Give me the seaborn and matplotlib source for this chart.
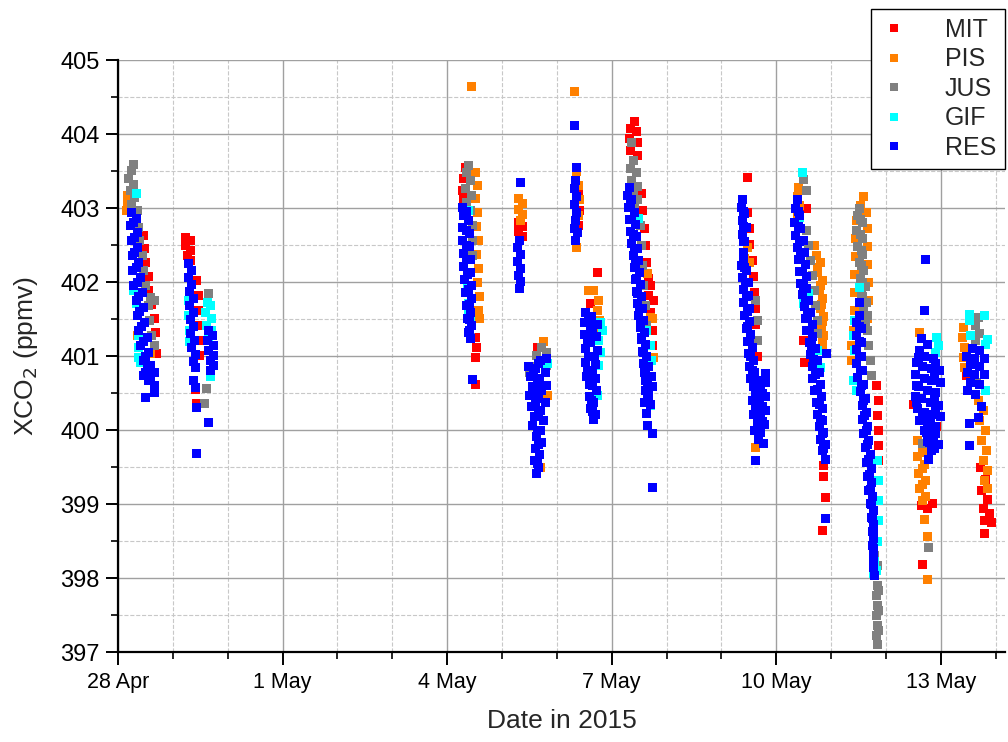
import pandas as pd
import matplotlib
matplotlib.use("Agg")
import matplotlib.pyplot as plt
import matplotlib.dates as mdates
from matplotlib.ticker import MultipleLocator
import seaborn as sns

# --- data: (days after 28 Apr 2015 00:00, XCO2 in ppmv) ---

MIT = [
    (0.46, 402.63), (0.49, 402.46), (0.51, 402.27), (0.55, 402.08), (0.56, 401.89), (0.62, 401.70),
    (0.66, 401.51), (0.69, 401.32), (0.67, 401.14), (0.71, 401.04), (0.55, 400.78),
    (1.24, 402.60), (1.33, 402.56), (1.24, 402.50), (1.33, 402.43), (1.26, 402.36), (1.33, 402.29),
    (1.44, 402.02), (1.46, 401.82), (1.47, 401.62), (1.47, 401.41), (1.49, 401.21), (1.49, 401.01),
    (1.42, 400.55), (1.44, 400.36),
    (6.34, 403.55), (6.30, 403.40), (6.28, 403.24), (6.30, 403.11), (6.52, 401.25), (6.54, 401.12),
    (6.52, 400.98), (6.52, 400.62),
    (7.30, 402.81), (7.37, 402.75), (7.30, 402.69), (7.37, 402.62), (7.65, 401.12),
    (8.39, 403.22), (8.41, 402.97), (8.39, 402.77), (8.74, 402.13), (8.61, 401.71),
    (9.41, 404.17), (9.34, 404.08), (9.45, 404.03), (9.32, 403.94), (9.47, 403.88), (9.34, 403.78),
    (9.47, 403.71), (9.54, 403.20), (9.56, 402.97), (9.59, 402.73), (9.61, 402.50), (9.63, 402.27),
    (9.67, 402.05), (9.70, 401.95), (9.68, 401.82), (9.70, 401.59), (9.74, 401.35), (9.74, 401.14),
    (9.76, 401.75),
    (11.47, 403.42), (11.47, 402.94), (11.51, 402.73), (11.52, 402.51), (11.56, 402.29), (11.58, 402.08),
    (11.60, 401.86), (11.62, 401.64), (11.63, 401.43), (11.65, 401.21), (11.65, 400.99),
    (12.55, 403.00), (12.49, 401.21), (12.51, 400.91), (12.87, 399.52), (12.87, 399.38),
    (12.89, 399.09), (12.85, 398.64),
    (13.82, 400.60), (13.86, 400.40), (13.84, 400.20), (13.87, 399.99), (13.86, 399.79), (13.87, 399.59),
    (14.65, 398.98), (14.76, 398.94), (14.84, 399.01), (14.67, 398.19), (14.51, 400.35), (14.93, 400.05),
    (15.73, 399.49), (15.82, 399.34), (15.75, 399.18), (15.86, 399.07), (15.77, 398.94), (15.89, 398.88),
    (15.79, 398.78), (15.93, 398.75), (15.79, 398.61), (15.46, 400.74),
]

PIS = [
    (0.18, 403.08), (0.16, 402.97), (0.18, 403.17), (0.36, 401.28), (0.60, 401.04),
    (6.44, 404.65), (6.52, 403.48), (6.55, 403.31), (6.52, 403.13), (6.55, 402.94), (6.54, 402.75),
    (6.57, 402.56), (6.54, 402.37), (6.57, 402.19), (6.55, 401.99), (6.59, 401.81), (6.57, 401.62),
    (6.59, 401.51),
    (7.30, 403.13), (7.37, 403.06), (7.30, 402.98), (7.37, 402.92), (7.34, 402.83),
    (7.76, 401.20), (7.70, 399.49), (7.83, 400.47),
    (8.32, 404.58), (8.36, 403.50), (8.39, 403.31), (8.41, 403.11), (8.39, 402.90), (8.36, 402.47),
    (8.67, 401.89), (8.57, 401.89), (8.76, 401.75), (8.74, 401.62), (8.78, 401.48), (8.72, 401.39),
    (9.65, 402.12), (9.70, 401.52), (9.74, 401.51), (9.76, 400.98),
    (11.47, 402.47), (11.43, 402.32), (11.52, 402.27), (11.62, 399.76),
    (12.40, 403.28), (12.38, 403.16), (12.42, 403.04), (12.38, 402.93), (12.69, 402.50), (12.73, 402.36),
    (12.80, 402.27), (12.76, 402.13), (12.84, 402.02), (12.78, 401.89), (12.85, 401.78), (12.80, 401.64),
    (12.87, 401.54), (12.82, 401.40), (12.87, 401.28), (12.84, 401.14),
    (12.75, 402.20), (12.80, 401.95), (12.83, 401.70), (12.84, 401.47), (12.85, 401.20),
    (13.60, 403.16), (13.53, 403.04), (13.64, 402.94), (13.46, 402.83), (13.66, 402.73), (13.44, 402.59),
    (13.67, 402.48), (13.44, 402.35), (13.67, 402.24), (13.42, 402.10), (13.69, 402.00), (13.42, 401.86),
    (13.69, 401.75), (13.42, 401.62), (13.67, 401.51), (13.40, 401.35), (13.38, 401.14), (13.38, 400.94),
    (14.62, 401.32), (14.58, 399.86), (14.69, 399.75), (14.58, 399.64), (14.71, 399.53), (14.60, 399.42),
    (14.72, 399.32), (14.62, 399.21), (14.72, 399.10), (14.71, 398.79), (14.75, 398.57), (14.75, 397.98),
    (14.66, 399.70), (14.66, 399.48), (14.67, 399.26), (14.67, 399.05),
    (15.42, 401.39), (15.40, 401.25), (15.44, 401.12), (15.42, 400.98), (15.44, 400.85),
    (15.69, 400.40), (15.77, 400.26), (15.71, 400.13), (15.81, 399.99), (15.75, 399.86), (15.83, 399.72),
    (15.77, 399.59), (15.85, 399.45), (15.79, 399.32), (15.85, 399.21),
]

JUS = [
    (0.29, 403.59), (0.24, 403.51), (0.20, 403.40), (0.29, 403.32), (0.22, 403.24), (0.31, 403.15),
    (0.24, 403.05), (0.35, 402.97), (0.38, 402.74), (0.40, 402.56), (0.44, 402.36), (0.47, 402.16),
    (0.51, 401.96), (0.60, 401.79), (0.55, 401.68), (0.66, 401.75), (0.58, 401.48), (0.62, 401.28),
    (0.66, 401.14),
    (1.66, 401.85), (1.62, 400.56), (1.57, 400.36),
    (6.39, 403.58), (6.35, 403.48), (6.43, 403.38), (6.33, 403.27), (6.45, 403.17), (6.35, 403.08),
    (6.43, 402.97), (6.46, 402.77), (6.46, 402.56), (6.46, 402.36), (6.43, 401.25),
    (7.72, 401.12), (7.81, 401.05), (7.63, 401.01), (7.54, 400.86), (7.81, 400.87), (7.50, 400.78),
    (9.37, 403.88), (9.39, 403.65), (9.35, 403.54), (9.45, 403.48), (9.37, 403.38), (9.47, 403.29),
    (9.39, 403.19), (9.47, 403.11), (9.41, 403.01), (9.52, 402.77), (9.54, 402.50), (9.56, 402.23),
    (9.58, 401.95), (9.61, 401.68), (9.63, 401.41),
    (11.63, 401.75), (11.65, 401.48), (11.65, 401.21),
    (12.49, 403.39), (12.55, 403.24), (12.55, 402.70), (12.58, 402.50), (12.62, 402.29), (12.66, 402.09),
    (12.69, 401.89), (12.71, 401.68), (12.75, 401.48), (12.76, 401.31),
    (13.52, 403.00), (13.49, 402.90), (13.57, 402.81), (13.47, 402.70), (13.57, 402.59), (13.49, 402.48),
    (13.58, 402.37), (13.51, 402.27), (13.60, 402.16), (13.53, 402.05), (13.62, 401.94), (13.55, 401.83),
    (13.64, 401.73), (13.66, 401.55), (13.67, 401.35), (13.69, 401.14), (13.71, 400.94), (13.73, 400.74),
    (13.54, 402.85), (13.54, 402.64), (13.55, 402.43), (13.56, 402.22), (13.57, 402.00), (13.58, 401.80),
    (13.60, 401.62), (13.62, 401.45),
    (13.80, 398.30), (13.84, 398.17), (13.80, 398.03), (13.84, 397.90), (13.82, 397.76), (13.84, 397.63),
    (13.82, 397.49), (13.84, 397.36), (13.82, 397.22), (13.84, 397.11), (13.87, 397.83), (13.87, 397.56),
    (13.87, 397.29),
    (14.78, 398.42), (14.66, 399.82),
    (15.68, 401.52), (15.64, 401.41), (15.71, 401.31), (15.64, 401.21), (15.66, 400.64),
]

GIF = [
    (0.33, 403.20), (0.29, 401.89), (0.33, 401.71), (0.38, 401.28), (0.38, 401.12), (0.38, 400.98),
    (0.42, 400.91),
    (1.28, 401.75), (1.29, 401.55), (1.31, 401.35), (1.30, 401.20),
    (1.64, 401.73), (1.69, 401.69), (1.60, 401.59), (1.71, 401.51), (1.62, 401.41), (1.71, 401.35),
    (1.66, 401.25), (1.69, 400.72),
    (6.39, 402.97), (6.39, 401.71), (6.39, 401.62), (6.43, 401.51), (6.37, 401.93),
    (7.83, 400.90),
    (8.80, 401.45), (8.83, 401.35), (8.76, 401.21), (8.80, 401.05), (8.76, 400.87), (8.74, 400.47),
    (9.49, 402.86), (9.63, 401.35), (9.70, 401.14), (9.72, 400.94), (9.67, 400.47), (9.70, 400.33),
    (12.47, 403.48), (12.43, 402.88), (12.49, 401.71), (12.58, 401.85), (12.75, 401.08), (12.80, 400.85),
    (13.52, 401.93), (13.42, 401.48), (13.40, 401.28), (13.42, 401.08), (13.40, 400.67), (13.46, 400.53),
    (13.84, 399.59), (13.86, 399.32), (13.86, 399.05), (13.86, 398.78), (13.84, 398.50), (13.80, 398.23),
    (13.77, 398.06), (13.82, 398.10),
    (14.93, 401.25), (14.95, 401.14), (14.91, 401.05),
    (15.52, 401.56), (15.79, 401.55), (15.52, 401.48), (15.54, 401.28), (15.86, 401.22), (15.82, 401.16),
    (15.82, 400.53),
]

RES = [
    # 28 Apr
    (0.24, 402.94), (0.33, 402.86), (0.22, 402.77), (0.35, 402.67), (0.24, 402.56), (0.36, 402.47),
    (0.26, 402.36), (0.38, 402.27), (0.27, 402.16), (0.42, 402.06), (0.29, 401.96), (0.44, 401.86),
    (0.33, 401.75), (0.46, 401.66), (0.35, 401.55), (0.49, 401.45), (0.38, 401.35), (0.53, 401.25),
    (0.42, 401.14), (0.56, 401.05), (0.46, 400.94), (0.60, 400.87), (0.51, 400.78), (0.66, 400.78),
    (0.56, 400.67), (0.67, 400.60), (0.46, 400.74), (0.51, 400.44), (0.66, 400.51),
    (0.29, 402.80), (0.30, 402.60), (0.31, 402.40), (0.33, 402.20), (0.35, 402.00), (0.38, 401.80),
    (0.40, 401.60), (0.43, 401.40), (0.47, 401.20), (0.50, 401.00), (0.54, 400.85), (0.60, 400.70),
    # 29 Apr
    (1.29, 402.25), (1.35, 402.16), (1.29, 402.06), (1.35, 401.97), (1.31, 401.87), (1.37, 401.78),
    (1.31, 401.68), (1.38, 401.59), (1.33, 401.50), (1.38, 401.40), (1.33, 401.31), (1.40, 401.21),
    (1.35, 401.12), (1.42, 401.02), (1.37, 400.93), (1.42, 400.85), (1.38, 400.67), (1.42, 400.58),
    (1.44, 400.30), (1.44, 399.68),
    (1.66, 401.35), (1.73, 401.28), (1.64, 401.21), (1.75, 401.14), (1.66, 401.08), (1.75, 401.01),
    (1.68, 400.94), (1.75, 400.87), (1.69, 400.81), (1.66, 400.10),
    # 4 May
    (6.28, 403.01), (6.30, 402.90), (6.39, 402.83), (6.28, 402.74), (6.41, 402.66), (6.28, 402.56),
    (6.41, 402.48), (6.30, 402.39), (6.43, 402.31), (6.30, 402.21), (6.43, 402.13), (6.32, 402.04),
    (6.45, 401.96), (6.33, 401.86), (6.45, 401.78), (6.35, 401.68), (6.43, 401.59), (6.37, 401.51),
    (6.45, 401.41), (6.39, 401.32), (6.43, 401.24), (6.46, 400.68),
    (6.35, 402.95), (6.35, 402.70), (6.35, 402.50), (6.36, 402.30), (6.37, 402.10), (6.39, 401.90),
    (6.40, 401.70), (6.41, 401.50), (6.41, 401.35),
    # 5 May
    (7.34, 403.34), (7.32, 402.56), (7.28, 402.47), (7.34, 402.37), (7.28, 402.28), (7.34, 402.19),
    (7.30, 402.09), (7.34, 402.01), (7.32, 401.91),
    (7.81, 400.97), (7.70, 400.94), (7.49, 400.86), (7.61, 400.83), (7.79, 400.78), (7.52, 400.72),
    (7.68, 400.70), (7.81, 400.61), (7.56, 400.59), (7.72, 400.53), (7.50, 400.47), (7.63, 400.43),
    (7.79, 400.37), (7.54, 400.32), (7.70, 400.26), (7.59, 400.18), (7.76, 400.13), (7.56, 400.06),
    (7.70, 399.99), (7.63, 399.91), (7.72, 399.83), (7.61, 399.75), (7.68, 399.67), (7.59, 399.59),
    (7.66, 399.49), (7.63, 399.42),
    (7.66, 400.90), (7.57, 400.78), (7.65, 400.62), (7.66, 400.50), (7.62, 400.35), (7.66, 400.20),
    (7.64, 400.00), (7.66, 399.80), (7.64, 399.55),
    # 6 May
    (8.32, 404.11), (8.36, 403.55), (8.34, 403.38), (8.32, 403.27), (8.36, 403.16), (8.32, 403.05),
    (8.36, 402.94), (8.34, 402.83), (8.32, 402.73), (8.38, 402.67), (8.34, 402.56),
    (8.52, 401.59), (8.63, 401.54), (8.50, 401.45), (8.74, 401.43), (8.61, 401.37), (8.50, 401.29),
    (8.72, 401.26), (8.61, 401.18), (8.52, 401.10), (8.74, 401.08), (8.63, 400.99), (8.52, 400.91),
    (8.70, 400.89), (8.61, 400.81), (8.54, 400.72), (8.70, 400.70), (8.59, 400.62), (8.72, 400.53),
    (8.59, 400.45), (8.67, 400.37), (8.61, 400.29), (8.70, 400.21), (8.67, 400.14),
    (8.57, 401.50), (8.66, 401.30), (8.56, 401.20), (8.68, 401.00), (8.57, 401.00), (8.65, 400.80),
    (8.56, 400.80), (8.65, 400.60), (8.63, 400.40), (8.65, 400.25),
    # 7 May
    (9.32, 403.28), (9.28, 403.17), (9.37, 403.11), (9.30, 403.01), (9.41, 402.94), (9.32, 402.85),
    (9.43, 402.78), (9.34, 402.69), (9.45, 402.62), (9.36, 402.52), (9.47, 402.46), (9.39, 402.36),
    (9.49, 402.29), (9.41, 402.20), (9.50, 402.13), (9.43, 402.04), (9.52, 401.97), (9.45, 401.87),
    (9.54, 401.81), (9.47, 401.71), (9.56, 401.64), (9.49, 401.55), (9.58, 401.48), (9.52, 401.39),
    (9.60, 401.32), (9.54, 401.22), (9.61, 401.16), (9.56, 401.06), (9.63, 400.99), (9.58, 400.90),
    (9.67, 400.86), (9.60, 400.78), (9.72, 400.72), (9.61, 400.67), (9.74, 400.59), (9.61, 400.53),
    (9.68, 400.47), (9.60, 400.37), (9.70, 400.35), (9.63, 400.22), (9.65, 400.06), (9.74, 399.95),
    (9.74, 399.22),
    (9.35, 403.05), (9.37, 402.85), (9.39, 402.65), (9.41, 402.45), (9.44, 402.25), (9.46, 402.05),
    (9.48, 401.85), (9.50, 401.65), (9.53, 401.45), (9.55, 401.25), (9.58, 401.05), (9.61, 400.85),
    (9.65, 400.65), (9.66, 400.45),
    # 9 May
    (11.38, 403.12), (11.36, 403.01), (11.43, 402.93), (11.38, 402.83), (11.45, 402.74), (11.38, 402.65),
    (11.43, 402.55), (11.41, 402.32), (11.36, 402.23), (11.45, 402.16), (11.38, 402.06), (11.49, 402.00),
    (11.40, 401.90), (11.49, 401.82), (11.41, 401.73), (11.51, 401.64), (11.43, 401.55), (11.52, 401.47),
    (11.45, 401.37), (11.54, 401.29), (11.47, 401.20), (11.56, 401.12), (11.49, 401.04), (11.58, 400.94),
    (11.51, 400.86), (11.60, 400.78), (11.54, 400.70), (11.67, 400.67), (11.80, 400.64), (11.58, 400.59),
    (11.71, 400.55), (11.63, 400.48), (11.81, 400.45), (11.56, 400.40), (11.70, 400.37), (11.63, 400.29),
    (11.81, 400.26), (11.58, 400.21), (11.72, 400.18), (11.65, 400.10), (11.79, 400.07), (11.61, 399.99),
    (11.72, 399.97), (11.67, 399.88), (11.76, 399.82), (11.62, 399.59), (11.80, 400.76),
    (11.40, 402.95), (11.40, 402.75), (11.40, 402.55), (11.40, 402.40), (11.42, 402.20), (11.44, 402.00),
    (11.45, 401.80), (11.47, 401.60), (11.48, 401.40), (11.51, 401.20), (11.53, 401.00), (11.56, 400.80),
    (11.66, 400.60), (11.75, 400.50), (11.68, 400.42), (11.75, 400.32), (11.68, 400.20), (11.75, 400.12),
    (11.68, 400.03),
    # 10 May
    (12.38, 403.12), (12.36, 403.00), (12.43, 402.90), (12.34, 402.81), (12.45, 402.73), (12.36, 402.63),
    (12.49, 402.56), (12.38, 402.47), (12.51, 402.40), (12.40, 402.31), (12.53, 402.24), (12.42, 402.14),
    (12.55, 402.08), (12.44, 401.98), (12.56, 401.91), (12.47, 401.83), (12.58, 401.75), (12.51, 401.67),
    (12.62, 401.59), (12.53, 401.51), (12.66, 401.43), (12.56, 401.35), (12.67, 401.27), (12.60, 401.18),
    (12.71, 401.10), (12.62, 401.02), (12.75, 400.94), (12.66, 400.86), (12.78, 400.78), (12.67, 400.70),
    (12.80, 400.62), (12.69, 400.53), (12.82, 400.45), (12.73, 400.37), (12.85, 400.29), (12.75, 400.21),
    (12.85, 400.13), (12.78, 400.05), (12.87, 399.97), (12.80, 399.88), (12.89, 399.80), (12.84, 399.72),
    (12.89, 399.61), (12.91, 401.04), (12.89, 398.80),
    (12.40, 402.95), (12.41, 402.75), (12.43, 402.55), (12.45, 402.35), (12.48, 402.15), (12.50, 401.95),
    (12.53, 401.75), (12.57, 401.55), (12.60, 401.35), (12.64, 401.15), (12.68, 400.95), (12.72, 400.75),
    (12.75, 400.55), (12.78, 400.35), (12.81, 400.15), (12.84, 399.95), (12.86, 399.75),
    # 11 May
    (13.52, 401.73), (13.52, 401.55), (13.46, 401.45), (13.55, 401.37), (13.46, 401.28), (13.55, 401.18),
    (13.47, 401.09), (13.56, 400.99), (13.47, 400.90), (13.58, 400.81), (13.49, 400.71), (13.60, 400.62),
    (13.53, 400.52), (13.62, 400.43), (13.57, 400.33), (13.64, 400.24), (13.58, 400.14), (13.67, 400.05),
    (13.60, 399.95), (13.69, 399.86), (13.62, 399.76), (13.71, 399.67), (13.64, 399.57), (13.73, 399.48),
    (13.66, 399.38), (13.73, 399.29), (13.68, 399.19), (13.75, 399.10), (13.71, 399.01), (13.77, 398.91),
    (13.73, 398.82), (13.78, 398.72), (13.75, 398.63), (13.78, 398.53), (13.75, 398.44), (13.78, 398.34),
    (13.77, 398.23), (13.78, 398.14), (13.79, 398.03),
    (13.51, 401.40), (13.51, 401.20), (13.52, 401.00), (13.54, 400.80), (13.56, 400.60), (13.59, 400.40),
    (13.61, 400.20), (13.64, 400.00), (13.66, 399.80), (13.68, 399.60), (13.70, 399.40), (13.72, 399.20),
    (13.74, 399.00), (13.76, 398.80), (13.77, 398.60), (13.77, 398.40),
    # 12 May
    (14.72, 402.31), (14.70, 401.62), (14.65, 401.24), (14.76, 401.16), (14.61, 401.08), (14.71, 400.99),
    (14.86, 400.97), (14.56, 400.91), (14.67, 400.86), (14.83, 400.83), (14.97, 400.81), (14.54, 400.75),
    (14.71, 400.70), (14.83, 400.67), (15.00, 400.64), (14.60, 400.59), (14.76, 400.53), (14.90, 400.51),
    (14.53, 400.45), (14.65, 400.43), (14.81, 400.37), (14.96, 400.34), (14.58, 400.29), (14.71, 400.24),
    (14.85, 400.21), (15.00, 400.18), (14.62, 400.13), (14.76, 400.07), (14.91, 400.05), (14.74, 399.97),
    (14.87, 399.91), (14.79, 399.83), (14.96, 399.80), (14.83, 399.72), (14.78, 399.61),
    (14.90, 400.90), (14.60, 400.98), (14.88, 400.72), (14.56, 400.60), (14.88, 400.45), (14.55, 400.37),
    (14.90, 400.28), (14.66, 400.20), (14.82, 400.12), (14.70, 400.00), (14.90, 399.95), (14.75, 399.85),
    (14.88, 399.75),
    # 13 May
    (15.57, 401.10), (15.71, 401.08), (15.47, 400.99), (15.62, 400.97), (15.79, 400.97), (15.55, 400.89),
    (15.71, 400.86), (15.48, 400.78), (15.62, 400.75), (15.79, 400.75), (15.55, 400.64), (15.71, 400.62),
    (15.48, 400.53), (15.64, 400.48), (15.74, 400.32), (15.68, 400.17), (15.52, 400.09), (15.52, 399.79),
]

stations = ["MIT", "PIS", "JUS", "GIF", "RES"]
colors = ["#ff0000", "#ff8000", "#808080", "#00ffff", "#0000ff"]
start = pd.Timestamp("2015-04-28")

# --- build long table, RES drawn last ---
rows = []
for name, pts in zip(stations, [MIT, PIS, JUS, GIF, RES]):
    for t, v in pts:
        rows.append({"station": name, "time": start + pd.to_timedelta(t, unit="D"), "xco2": v})
df = pd.DataFrame(rows)

sns.set_theme(style="white")
plt.rcParams["font.family"] = ["Liberation Sans", "DejaVu Sans"]

fig = plt.figure(figsize=(10.08, 7.42), dpi=100)
ax = fig.add_axes([0.117, 0.121, 0.88, 0.798])

sns.scatterplot(data=df, x="time", y="xco2", hue="station", hue_order=stations,
                palette=colors, marker="s", s=42, linewidth=0, ax=ax, legend=True, zorder=3)

ax.set_xlim(start, start + pd.Timedelta(days=16.17))
ax.set_ylim(397, 405)

ax.xaxis.set_major_locator(mdates.DayLocator(bymonthday=[1, 4, 7, 10, 13, 28]))
ax.xaxis.set_minor_locator(mdates.DayLocator())
ax.xaxis.set_major_formatter(mdates.DateFormatter("%-d %b"))
ax.yaxis.set_major_locator(MultipleLocator(1))
ax.yaxis.set_minor_locator(MultipleLocator(0.5))

ax.grid(which="major", color="#a0a0a0", linestyle="-", linewidth=1.0)
ax.grid(which="minor", color="#c8c8c8", linestyle="--", linewidth=0.8)
ax.set_axisbelow(True)

for side in ["top", "right"]:
    ax.spines[side].set_visible(False)
for side in ["left", "bottom"]:
    ax.spines[side].set_color("black")
    ax.spines[side].set_linewidth(1.6)

ax.tick_params(which="major", direction="out", length=9, width=1.4, colors="black",
               left=True, bottom=True)
ax.tick_params(which="minor", direction="out", length=5, width=1.2, colors="black",
               left=True, bottom=True)
ax.tick_params(axis="x", which="major", labelsize=15.5, pad=5)
ax.tick_params(axis="y", which="major", labelsize=17, pad=4)

ax.set_xlabel("Date in 2015", fontsize=19, labelpad=12)
ax.set_ylabel("XCO$_2$ (ppmv)", fontsize=19, labelpad=15)

handles, labels = ax.get_legend_handles_labels()
ax.legend(handles, labels, loc="upper right", bbox_to_anchor=(1005 / 1008, 1 - 9 / 742),
          bbox_transform=fig.transFigure, fontsize=18, frameon=True, fancybox=False,
          edgecolor="black", framealpha=1, borderpad=0.35, labelspacing=0.22,
          handlelength=1.1, handletextpad=1.5, borderaxespad=0, markerscale=0.85)
ax.get_legend().get_frame().set_linewidth(1.0)

fig.savefig("out.png", dpi=100)
